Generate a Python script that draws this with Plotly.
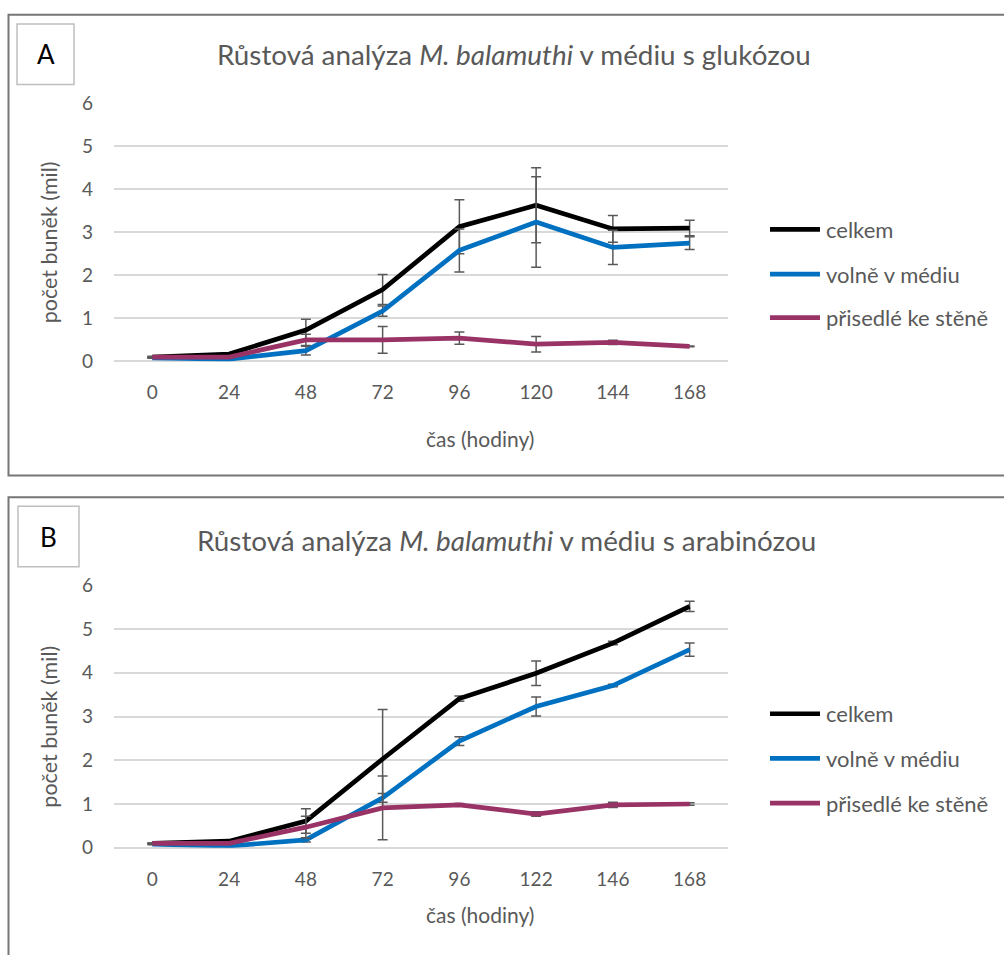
import plotly.graph_objects as go

# --- data -------------------------------------------------------------
hours_a = ["0", "24", "48", "72", "96", "120", "144", "168"]
celkem_a = [0.10, 0.17, 0.73, 1.67, 3.13, 3.63, 3.08, 3.10]
celkem_a_err = [0.02, 0.02, 0.25, 0.35, 0.63, 0.87, 0.31, 0.18]
volne_a = [0.08, 0.05, 0.25, 1.17, 2.58, 3.24, 2.65, 2.75]
volne_a_err = [0.01, 0.01, 0.10, 0.12, 0.50, 1.05, 0.40, 0.15]
prisedle_a = [0.10, 0.10, 0.50, 0.50, 0.54, 0.40, 0.44, 0.35]
prisedle_a_err = [0.01, 0.01, 0.13, 0.31, 0.14, 0.18, 0.05, 0.01]

hours_b = ["0", "24", "48", "72", "96", "122", "146", "168"]
celkem_b = [0.10, 0.15, 0.61, 2.03, 3.41, 3.99, 4.68, 5.52]
celkem_b_err = [0.01, 0.02, 0.28, 1.13, 0.06, 0.28, 0.04, 0.12]
volne_b = [0.08, 0.04, 0.18, 1.14, 2.44, 3.23, 3.71, 4.53]
volne_b_err = [0.01, 0.01, 0.05, 0.10, 0.10, 0.22, 0.03, 0.15]
prisedle_b = [0.10, 0.10, 0.47, 0.91, 0.98, 0.77, 0.98, 1.00]
prisedle_b_err = [0.01, 0.01, 0.25, 0.73, 0.03, 0.05, 0.06, 0.03]

series_names = ["celkem", "volně v médiu", "přisedlé ke stěně"]
series_colors = ["#000000", "#0070C0", "#993366"]

titles = [
    "Růstová analýza <i>M. balamuthi</i> v médiu s glukózou",
    "Růstová analýza <i>M. balamuthi</i> v médiu s arabinózou",
]
panel_letters = ["A", "B"]
x_title = "čas (hodiny)"
y_title = "počet buněk (mil)"

# --- layout helpers (pixel -> paper) ----------------------------------
W, H = 1004, 955
TOP_PAD, CANVAS_H = 8, 939   # vertical placement of the canvas on the page
FONT = "Lato, 'Open Sans', sans-serif"
TXT = "#595959"


def px(x):
    return x / W


def py(y):
    return 1 - (y - TOP_PAD) / CANVAS_H


fig = go.Figure()

panels = [
    (hours_a, [(celkem_a, celkem_a_err), (volne_a, volne_a_err), (prisedle_a, prisedle_a_err)], "x", "y"),
    (hours_b, [(celkem_b, celkem_b_err), (volne_b, volne_b_err), (prisedle_b, prisedle_b_err)], "x2", "y2"),
]

for hours, series, xa, ya in panels:
    for (vals, errs), name, color in zip(series, series_names, series_colors):
        fig.add_trace(go.Scatter(
            x=hours, y=vals, name=name, mode="lines",
            line=dict(color=color, width=4.7),
            error_y=dict(type="data", array=errs, visible=True,
                         color="#595959", thickness=1.5, width=5),
            xaxis=xa, yaxis=ya, showlegend=False,
        ))

# plot areas: [top, bottom] in pixels of the y-range 0..6
plot_rows = [(100, 360), (585.7, 850)]
x_dom = [px(114), px(728)]

axis_common_x = dict(type="category", range=[-0.5, 7.5], showgrid=False,
                     showline=False, zeroline=False, ticks="",
                     tickfont=dict(family=FONT, size=19, color=TXT),
                     ticklabelstandoff=18, fixedrange=True)
axis_common_y = dict(range=[0, 6], dtick=1, showgrid=True, gridcolor="#d9d9d9",
                     gridwidth=1.5, zeroline=True, zerolinecolor="#d9d9d9",
                     zerolinewidth=1.5, showline=False, ticks="",
                     tickfont=dict(family=FONT, size=19, color=TXT),
                     ticklabelstandoff=20, fixedrange=True)

fig.update_layout(
    width=W, height=H,
    margin=dict(l=0, r=0, t=0, b=0),
    paper_bgcolor="white", plot_bgcolor="white",
    showlegend=False,
    xaxis=dict(domain=x_dom, anchor="y", **axis_common_x),
    yaxis=dict(domain=[py(plot_rows[0][1]), py(plot_rows[0][0])], anchor="x", **axis_common_y),
    xaxis2=dict(domain=x_dom, anchor="y2", **axis_common_x),
    yaxis2=dict(domain=[py(plot_rows[1][1]), py(plot_rows[1][0])], anchor="x2", **axis_common_y),
)

shapes = []
annotations = []

# outer frames of the two panels
frames = [(10.7, 475), (497, 1000)]
for top, bottom in frames:
    shapes.append(dict(type="rect", xref="paper", yref="paper",
                       x0=px(8.5), x1=px(1012), y0=py(bottom), y1=py(top),
                       line=dict(color="#767676", width=2), layer="above"))

# letter boxes
letter_boxes = [(17, 74, 20, 81), (18, 79, 506, 567)]
for (x0, x1, y0, y1), letter in zip(letter_boxes, panel_letters):
    shapes.append(dict(type="rect", xref="paper", yref="paper",
                       x0=px(x0), x1=px(x1), y0=py(y1), y1=py(y0),
                       line=dict(color="#bfbfbf", width=1.5)))
    annotations.append(dict(text=letter, xref="paper", yref="paper",
                            x=px((x0 + x1) / 2), y=py((y0 + y1) / 2),
                            showarrow=False, xanchor="center", yanchor="middle",
                            font=dict(family=FONT, size=26, color="#000000")))

# chart titles
title_pos = [(514, 51), (506, 540)]
for (tx, ty), t in zip(title_pos, titles):
    annotations.append(dict(text=t, xref="paper", yref="paper", x=px(tx), y=py(ty),
                            showarrow=False, xanchor="center", yanchor="middle",
                            font=dict(family=FONT, size=27.8, color=TXT)))

# axis titles
x_title_y = [438, 917]
y_title_y = [240, 728]
for xt, yt in zip(x_title_y, y_title_y):
    annotations.append(dict(text=x_title, xref="paper", yref="paper", x=px(480), y=py(xt),
                            showarrow=False, xanchor="center", yanchor="middle",
                            font=dict(family=FONT, size=21, color=TXT)))
    annotations.append(dict(text=y_title, xref="paper", yref="paper", x=px(49), y=py(yt),
                            showarrow=False, xanchor="center", yanchor="middle",
                            textangle=-90,
                            font=dict(family=FONT, size=21.5, color=TXT)))

# legends
legend_rows = [[227, 272, 316], [715, 760, 805]]
for rows in legend_rows:
    for ly, name, color in zip(rows, series_names, series_colors):
        shapes.append(dict(type="line", xref="paper", yref="paper",
                           x0=px(770), x1=px(820), y0=py(ly), y1=py(ly),
                           line=dict(color=color, width=4.7)))
        annotations.append(dict(text=name, xref="paper", yref="paper",
                                x=px(824), y=py(ly), showarrow=False,
                                xanchor="left", yanchor="middle",
                                font=dict(family=FONT, size=22, color=TXT)))

fig.update_layout(shapes=shapes, annotations=annotations)

fig.write_html("out.html")
